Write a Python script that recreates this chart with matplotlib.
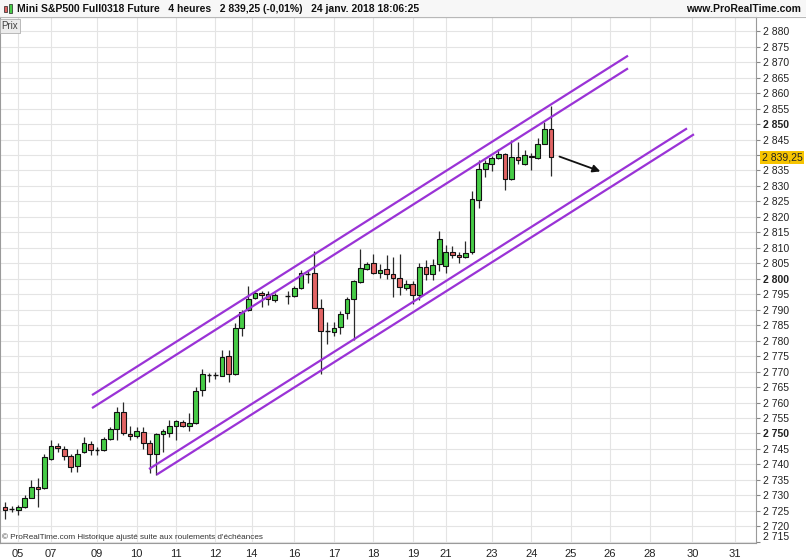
import matplotlib
matplotlib.use('Agg')
import matplotlib.pyplot as plt
import matplotlib.transforms as mtransforms
from matplotlib.patches import Rectangle

plt.rcParams['font.family'] = ['Liberation Sans', 'DejaVu Sans']

# 4 heures candles, slot 42 is empty (15 janv. holiday)
opens = [2726.1, 2725.5, 2725.2, 2726.3, 2729.2, 2732.8, 2732.3, 2741.6, 2746.0, 2745.0,
         2742.7, 2739.4, 2744.0, 2746.5, 2744.6, 2744.5, 2748.3, 2751.6, 2757.0, 2749.9,
         2749.2, 2750.5, 2747.0, 2743.5, 2749.8, 2750.0, 2752.3, 2753.8, 2752.5, 2753.3,
         2764.0, 2769.0, 2768.9, 2768.7, 2775.0, 2769.2, 2784.2, 2789.8, 2793.9, 2795.5,
         2795.2, 2793.1, None, 2794.4, 2794.4, 2797.1, 2801.7, 2802.0, 2790.7, 2783.1,
         2782.8, 2784.4, 2788.8, 2793.3, 2799.0, 2803.3, 2805.1, 2802.0, 2803.0, 2801.7,
         2800.4, 2797.1, 2798.4, 2794.7, 2803.8, 2801.5, 2804.7, 2804.1, 2808.6, 2807.6,
         2807.1, 2808.5, 2825.6, 2835.6, 2837.2, 2839.1, 2840.4, 2832.1, 2839.3, 2837.2,
         2839.8, 2839.1, 2843.6, 2848.3]
highs = [2728.0, 2726.5, 2727.0, 2730.0, 2735.0, 2735.5, 2743.5, 2748.0, 2747.0, 2746.0,
         2743.5, 2745.0, 2748.7, 2747.5, 2745.5, 2748.7, 2752.0, 2758.6, 2760.2, 2752.5,
         2752.0, 2752.0, 2748.0, 2750.0, 2751.6, 2754.5, 2754.5, 2754.5, 2756.5, 2764.9,
         2770.7, 2769.4, 2770.0, 2776.9, 2776.9, 2785.7, 2790.0, 2797.6, 2796.0, 2796.0,
         2796.0, 2795.5, None, 2796.0, 2797.5, 2802.7, 2802.5, 2809.0, 2793.3, 2786.0,
         2786.0, 2789.6, 2794.2, 2799.5, 2809.7, 2805.5, 2807.9, 2804.9, 2807.6, 2806.9,
         2807.9, 2799.5, 2799.3, 2805.0, 2806.2, 2806.5, 2815.4, 2810.8, 2810.6, 2808.6,
         2812.2, 2828.3, 2838.3, 2838.5, 2839.8, 2842.0, 2840.6, 2845.0, 2844.2, 2841.7,
         2840.5, 2845.6, 2850.6, 2855.7]
lows = [2722.2, 2724.5, 2723.5, 2726.0, 2729.0, 2726.3, 2732.0, 2741.4, 2744.0, 2741.5,
        2737.5, 2737.5, 2743.8, 2743.0, 2743.0, 2744.3, 2748.0, 2748.0, 2749.5, 2748.0,
        2748.5, 2745.0, 2737.3, 2736.6, 2744.1, 2749.0, 2747.8, 2752.0, 2750.7, 2753.0,
        2762.0, 2766.7, 2767.5, 2768.5, 2766.7, 2768.9, 2781.5, 2789.6, 2793.4, 2791.0,
        2791.5, 2792.5, None, 2792.0, 2794.0, 2796.8, 2798.6, 2790.4, 2769.2, 2779.0,
        2781.4, 2782.0, 2787.1, 2780.1, 2798.6, 2802.8, 2801.7, 2800.4, 2800.0, 2794.1,
        2794.6, 2796.5, 2792.0, 2793.0, 2799.5, 2799.5, 2802.5, 2802.0, 2806.8, 2805.0,
        2806.8, 2807.9, 2823.0, 2833.0, 2834.7, 2838.8, 2828.8, 2831.8, 2837.2, 2836.9,
        2835.0, 2838.8, 2843.4, 2833.2]
closes = [2725.2, 2725.5, 2726.3, 2729.2, 2732.8, 2732.0, 2742.5, 2745.9, 2745.2, 2742.6,
          2739.3, 2743.5, 2747.0, 2744.5, 2744.6, 2748.1, 2751.4, 2757.0, 2750.0, 2749.1,
          2750.7, 2746.8, 2743.5, 2749.7, 2750.7, 2752.3, 2754.0, 2752.5, 2753.4, 2763.8,
          2769.2, 2769.0, 2768.9, 2774.7, 2769.2, 2784.2, 2789.3, 2793.6, 2795.5, 2794.8,
          2793.3, 2794.7, None, 2794.4, 2797.0, 2801.9, 2801.7, 2790.6, 2783.1, 2783.1,
          2784.2, 2788.5, 2793.4, 2799.3, 2803.6, 2804.9, 2801.9, 2802.7, 2801.7, 2800.4,
          2797.3, 2798.4, 2794.7, 2803.8, 2801.5, 2804.5, 2813.0, 2808.6, 2807.8, 2807.0,
          2808.4, 2825.9, 2835.6, 2837.5, 2839.1, 2840.2, 2832.3, 2839.3, 2838.5, 2839.9,
          2839.3, 2843.6, 2848.5, 2839.25]

day_pos = [2, 7, 14, 20, 26, 32, 37.5, 44, 50, 56, 62, 67, 74, 80, 86, 92, 98, 104.5, 111]
day_labels = ['05', '07', '09', '10', '11', '12', '14', '16', '17', '18', '19', '21',
              '23', '24', '25', '26', '28', '30', '31']

price_ticks = list(range(2715, 2885, 5))
bold_prices = [2750, 2800, 2850]
last_price = 2839.25

# channel lines: (x start, price start, x end, price end)
channel_lines = [
    (13.23, 2762.4, 94.71, 2872.1),
    (13.23, 2758.2, 94.71, 2868.0),
    (21.89, 2738.5, 103.68, 2848.6),
    (23.06, 2736.7, 104.74, 2846.7),
]
arrow_from = (83.9, 2839.8)
arrow_to = (90.9, 2834.4)

GREEN = '#46cc46'
RED = '#e26464'
PURPLE = '#9a33d6'

fig = plt.figure(figsize=(8.06, 5.6), dpi=100)
ax = fig.add_axes([0.0, 17 / 560, 756 / 806, 526 / 560])

ax.set_xlim(-0.76, 114.17)
ax.set_ylim(2714.6, 2884.6)

ax.set_axisbelow(True)
ax.grid(True, color='#e4e4e4', lw=0.8)

w = 0.72
for i in range(len(opens)):
    o, h, l, c = opens[i], highs[i], lows[i], closes[i]
    if o is None:
        continue
    ax.vlines(i, l, h, color='#2a2a2a', lw=0.9, zorder=2)
    if abs(c - o) < 0.15:
        ax.hlines(o, i - w / 2, i + w / 2, color='#111111', lw=1.0, zorder=3)
    else:
        col = GREEN if c > o else RED
        ax.add_patch(Rectangle((i - w / 2, min(o, c)), w, abs(c - o),
                               facecolor=col, edgecolor='#111111', lw=0.8, zorder=3))

for x0, y0, x1, y1 in channel_lines:
    ax.plot([x0, x1], [y0, y1], color=PURPLE, lw=1.6, zorder=4, solid_capstyle='butt')

ax.annotate('', xy=arrow_to, xytext=arrow_from,
            arrowprops=dict(arrowstyle='-|>', color='#111111', lw=1.3, mutation_scale=11),
            zorder=5)

# axes / ticks
ax.yaxis.tick_right()
ax.set_yticks(price_ticks)
ylabels = []
for v in price_ticks:
    ylabels.append('' if v == 2840 else f'{v:,}'.replace(',', ' '))
ax.set_yticklabels(ylabels)
for v, t in zip(price_ticks, ax.get_yticklabels()):
    if v in bold_prices:
        t.set_fontweight('bold')
    if v == 2715:
        t.set_va('bottom')
ax.tick_params(axis='y', direction='out', length=3, pad=2, labelsize=7.5,
               color='#888888', labelcolor='#222222')

ax.set_xticks(day_pos)
ax.set_xticklabels(day_labels)
ax.tick_params(axis='x', length=0, pad=4, labelsize=8, labelcolor='#222222')

for s in ax.spines.values():
    s.set_color('#9a9a9a')
    s.set_linewidth(0.8)

# current price label
trans = mtransforms.blended_transform_factory(ax.transAxes, ax.transData)
ax.annotate('2 839,25', xy=(1.0, last_price), xycoords=trans,
            xytext=(6, 0), textcoords='offset pixels', va='center', ha='left',
            fontsize=7.5, color='#222222', annotation_clip=False,
            bbox=dict(boxstyle='square,pad=0.15', facecolor='#f6c400', edgecolor='none'))

# footer
ax.text(0.003, 0.004, "© ProRealTime.com Historique ajusté suite aux roulements d'échéances",
        transform=ax.transAxes, fontsize=5.9, color='#333333', va='bottom', ha='left')

# "Prix" box
ax.text(0.002, 0.993, 'Prix', transform=ax.transAxes, fontsize=7, color='#444444',
        va='top', ha='left',
        bbox=dict(boxstyle='square,pad=0.2', facecolor='#ececec', edgecolor='#b0b0b0', lw=0.6))

# title bar
fig.patches.append(Rectangle((0, 1 - 16 / 560), 1, 16 / 560, transform=fig.transFigure,
                             facecolor='#f7f7f7', edgecolor='none', zorder=0))
fig.add_artist(plt.Line2D([0, 1], [1 - 16.5 / 560] * 2, transform=fig.transFigure,
                          color='#b8b8b8', lw=0.8))
fig.patches.append(Rectangle((4 / 806, 1 - 12 / 560), 3 / 806, 6 / 560, transform=fig.transFigure,
                             facecolor=RED, edgecolor='#222222', lw=0.5))
fig.patches.append(Rectangle((9 / 806, 1 - 13 / 560), 3 / 806, 9 / 560, transform=fig.transFigure,
                             facecolor=GREEN, edgecolor='#222222', lw=0.5))
fig.text(17 / 806, 1 - 8.5 / 560,
         'Mini S&P500 Full0318 Future   4 heures   2 839,25 (-0,01%)   24 janv. 2018 18:06:25',
         fontsize=7.5, fontweight='bold', color='#111111', va='center', ha='left')
fig.text(801 / 806, 1 - 8.5 / 560, 'www.ProRealTime.com', fontsize=7.5, fontweight='bold',
         color='#111111', va='center', ha='right')

fig.savefig('out.png', dpi=100)
